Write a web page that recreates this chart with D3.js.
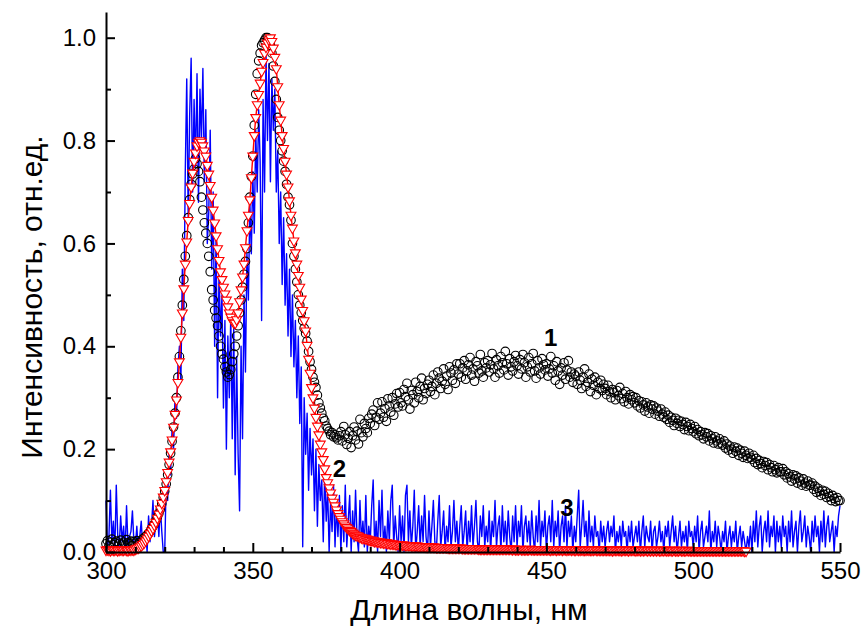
<!DOCTYPE html>
<html><head><meta charset="utf-8">
<script src="https://cdn.jsdelivr.net/npm/d3@7"></script>
<style>
html,body{margin:0;padding:0;background:#fff;}
svg{display:block;font-family:"Liberation Sans",Arial,sans-serif;}
</style></head>
<body><svg id="chart" width="866" height="641"></svg>
<script>
// wavelength grid (nm) for all series
const wlStart = 300, wlStep = 0.5;

// Series 1 (black open circles) 300..550 nm
const series1 = [
0.016,0.022,0.012,0.019,0.025,0.014,0.018,0.021,0.011,0.017,0.023,0.015,0.019,0.013,0.024,0.018,0.016,0.021,0.012,0.020,
0.017,0.022,0.014,0.019,0.020,0.025,0.028,0.030,0.033,0.036,0.040,0.045,0.050,0.055,0.061,0.068,0.075,0.083,0.094,0.106,
0.118,0.132,0.150,0.170,0.192,0.215,0.243,0.270,0.300,0.340,0.380,0.430,0.480,0.530,0.575,0.615,0.650,0.685,0.715,0.735,
0.745,0.765,0.755,0.740,0.720,0.690,0.665,0.640,0.620,0.600,0.575,0.545,0.510,0.490,0.470,0.455,0.440,0.420,0.400,0.385,
0.375,0.360,0.350,0.340,0.345,0.355,0.370,0.385,0.400,0.420,0.440,0.465,0.490,0.515,0.540,0.565,0.590,0.640,0.690,0.730,
0.770,0.830,0.890,0.930,0.955,0.970,0.985,0.990,0.995,1.000,1.000,0.995,0.985,0.970,0.945,0.915,0.880,0.845,0.820,0.800,
0.780,0.760,0.740,0.715,0.690,0.675,0.645,0.600,0.575,0.550,0.525,0.500,0.480,0.465,0.450,0.435,0.425,0.410,0.390,0.370,
0.355,0.340,0.330,0.320,0.305,0.290,0.280,0.270,0.260,0.255,0.245,0.240,0.235,0.228,0.232,0.224,0.228,0.222,0.218,0.226,
0.234,0.216,0.244,0.228,0.209,0.221,0.234,0.203,0.226,0.243,0.218,0.235,0.210,0.258,0.232,0.224,0.250,0.240,0.232,0.260,
0.250,0.268,0.276,0.246,0.262,0.290,0.258,0.270,0.292,0.262,0.279,0.254,0.298,0.284,0.272,0.300,0.266,0.288,0.308,0.282,
0.310,0.290,0.284,0.316,0.302,0.328,0.296,0.278,0.314,0.306,0.290,0.330,0.312,0.300,0.322,0.338,0.296,0.318,0.308,0.326,
0.334,0.312,0.322,0.344,0.306,0.328,0.350,0.338,0.318,0.332,0.356,0.326,0.342,0.316,0.360,0.348,0.334,0.354,0.328,0.366,
0.346,0.366,0.340,0.358,0.372,0.336,0.352,0.364,0.378,0.344,0.356,0.332,0.370,0.362,0.348,0.384,0.352,0.340,0.368,0.358,
0.372,0.350,0.364,0.386,0.356,0.340,0.374,0.362,0.348,0.380,0.368,0.354,0.390,0.366,0.344,0.376,0.360,0.352,0.370,0.382,
0.362,0.346,0.374,0.356,0.384,0.368,0.340,0.360,0.378,0.350,0.366,0.386,0.352,0.338,0.372,0.358,0.346,0.376,0.364,0.354,
0.366,0.342,0.356,0.380,0.348,0.362,0.334,0.370,0.352,0.326,0.358,0.344,0.368,0.336,0.354,0.372,0.340,0.350,0.330,0.346,
0.342,0.326,0.350,0.334,0.318,0.340,0.356,0.322,0.330,0.346,0.312,0.336,0.324,0.340,0.306,0.330,0.318,0.334,0.314,0.326,
0.318,0.306,0.324,0.312,0.300,0.316,0.310,0.296,0.314,0.304,0.320,0.298,0.308,0.292,0.312,0.300,0.288,0.306,0.296,0.302,
0.290,0.300,0.284,0.294,0.280,0.292,0.286,0.274,0.290,0.282,0.270,0.286,0.278,0.284,0.268,0.280,0.274,0.264,0.278,0.268,
0.262,0.272,0.258,0.266,0.252,0.262,0.256,0.246,0.260,0.250,0.256,0.244,0.254,0.248,0.238,0.252,0.244,0.236,0.248,0.240,
0.234,0.244,0.230,0.238,0.226,0.234,0.228,0.220,0.232,0.224,0.230,0.216,0.226,0.220,0.212,0.224,0.216,0.210,0.220,0.212,
0.208,0.216,0.202,0.210,0.198,0.206,0.200,0.192,0.204,0.196,0.202,0.188,0.198,0.192,0.184,0.196,0.188,0.182,0.192,0.184,
0.180,0.188,0.174,0.182,0.170,0.178,0.172,0.164,0.176,0.168,0.174,0.160,0.170,0.164,0.156,0.168,0.160,0.154,0.164,0.156,
0.156,0.162,0.150,0.156,0.144,0.152,0.146,0.138,0.150,0.142,0.148,0.134,0.144,0.138,0.130,0.142,0.134,0.128,0.138,0.130,
0.130,0.134,0.122,0.128,0.116,0.124,0.118,0.110,0.120,0.112,0.118,0.106,0.114,0.108,0.100,0.110,0.104,0.098,0.106,0.100,
0.100];

// Series 2 (red triangles + line) 300..518 nm
const series2 = [
0.004,0.005,0.004,0.003,0.005,0.004,0.004,0.005,0.003,0.004,0.005,0.004,0.004,0.005,0.004,0.003,0.005,0.004,0.005,0.004,
0.006,0.007,0.008,0.010,0.012,0.015,0.018,0.022,0.026,0.031,0.036,0.041,0.046,0.052,0.058,0.066,0.074,0.084,0.095,0.107,
0.120,0.137,0.155,0.175,0.195,0.218,0.243,0.268,0.296,0.330,0.370,0.418,0.465,0.512,0.560,0.603,0.645,0.678,0.710,0.737,
0.760,0.776,0.790,0.797,0.800,0.797,0.790,0.780,0.770,0.752,0.735,0.713,0.690,0.665,0.640,0.615,0.590,0.567,0.545,0.530,
0.515,0.502,0.490,0.477,0.465,0.457,0.450,0.446,0.445,0.452,0.465,0.487,0.510,0.535,0.560,0.592,0.625,0.655,0.685,0.728,
0.770,0.810,0.845,0.870,0.890,0.912,0.935,0.952,0.970,0.982,0.990,0.996,1.000,0.993,0.980,0.962,0.940,0.905,0.870,0.840,
0.810,0.785,0.760,0.735,0.710,0.683,0.655,0.630,0.605,0.582,0.560,0.538,0.515,0.492,0.470,0.450,0.430,0.402,0.375,0.348,
0.320,0.300,0.280,0.262,0.245,0.228,0.210,0.195,0.180,0.162,0.145,0.135,0.125,0.115,0.105,0.097,0.090,0.082,0.075,0.069,
0.064,0.059,0.055,0.051,0.048,0.045,0.042,0.040,0.037,0.035,0.033,0.032,0.031,0.029,0.028,0.027,0.027,0.026,0.025,0.024,
0.023,0.023,0.022,0.021,0.021,0.020,0.020,0.019,0.019,0.018,0.018,0.018,0.017,0.017,0.016,0.016,0.016,0.015,0.015,0.015,
0.014,0.014,0.014,0.014,0.013,0.013,0.013,0.013,0.012,0.012,0.012,0.012,0.012,0.011,0.011,0.011,0.011,0.011,0.010,0.010,
0.010,0.010,0.010,0.010,0.010,0.009,0.009,0.009,0.009,0.009,0.009,0.009,0.009,0.008,0.008,0.008,0.008,0.008,0.008,0.008,
0.008,0.008,0.008,0.007,0.007,0.007,0.007,0.007,0.007,0.007,0.007,0.007,0.007,0.007,0.006,0.006,0.006,0.006,0.006,0.006,
0.006,0.006,0.006,0.006,0.006,0.006,0.006,0.006,0.006,0.006,0.006,0.006,0.006,0.006,0.006,0.006,0.006,0.005,0.006,0.005,
0.005,0.005,0.006,0.005,0.005,0.005,0.005,0.005,0.005,0.006,0.005,0.005,0.005,0.005,0.005,0.005,0.005,0.005,0.005,0.005,
0.005,0.005,0.005,0.004,0.005,0.005,0.005,0.004,0.005,0.005,0.005,0.004,0.005,0.005,0.004,0.005,0.005,0.004,0.005,0.004,
0.004,0.005,0.004,0.004,0.005,0.004,0.004,0.004,0.005,0.004,0.004,0.004,0.004,0.005,0.004,0.004,0.004,0.004,0.004,0.004,
0.004,0.004,0.004,0.004,0.004,0.003,0.004,0.004,0.004,0.004,0.004,0.003,0.004,0.004,0.004,0.004,0.003,0.004,0.004,0.004,
0.004,0.003,0.004,0.004,0.003,0.004,0.003,0.004,0.004,0.003,0.004,0.003,0.004,0.003,0.004,0.003,0.004,0.003,0.003,0.004,
0.003,0.004,0.003,0.003,0.004,0.003,0.003,0.004,0.003,0.003,0.003,0.004,0.003,0.003,0.003,0.003,0.004,0.003,0.003,0.003,
0.003,0.003,0.003,0.003,0.003,0.003,0.003,0.003,0.003,0.003,0.003,0.003,0.003,0.003,0.003,0.003,0.003,0.003,0.003,0.003,
0.003,0.003,0.003,0.003,0.003,0.003,0.003,0.003,0.003,0.003,0.003,0.003,0.003,0.003,0.003,0.002,0.002];

// Series 3 (blue line) 300..550 nm
const series3 = [
0.10,0.01,0.03,0.12,0.02,0.06,0.00,0.13,0.03,0.01,0.07,0.02,0.05,0.00,0.09,0.01,0.03,0.04,0.08,0.02,
0.01,0.05,0.00,0.03,0.06,0.01,0.02,0.04,0.00,0.07,0.02,0.05,0.10,0.03,0.06,0.08,0.03,0.09,0.04,0.00,
0.00,0.14,0.10,0.19,0.15,0.24,0.20,0.30,0.26,0.36,0.40,0.33,0.55,0.45,0.74,0.92,0.65,0.85,0.96,0.70,
0.88,0.75,0.93,0.68,0.90,0.80,0.94,0.72,0.86,0.60,0.66,0.82,0.55,0.70,0.40,0.62,0.30,0.55,0.42,0.50,
0.28,0.45,0.20,0.42,0.30,0.46,0.22,0.44,0.15,0.38,0.19,0.08,0.40,0.22,0.50,0.35,0.58,0.49,0.68,0.58,
0.74,0.62,0.82,0.70,0.86,0.76,0.45,0.88,0.70,0.97,0.80,0.95,0.72,0.92,0.82,0.90,0.70,0.78,0.60,0.70,
0.52,0.65,0.48,0.58,0.42,0.55,0.38,0.50,0.36,0.45,0.30,0.42,0.25,0.36,0.01,0.30,0.19,0.27,0.12,0.24,
0.15,0.22,0.08,0.20,0.05,0.17,0.10,0.14,0.02,0.16,0.06,0.12,0.00,0.10,0.04,0.13,0.01,0.09,0.03,0.11,
0.00,0.09,0.02,0.13,0.01,0.06,0.11,0.00,0.08,0.02,0.12,0.03,0.00,0.10,0.02,0.06,0.01,0.11,0.00,0.05,
0.02,0.09,0.14,0.01,0.06,0.00,0.10,0.03,0.12,0.01,0.05,0.00,0.08,0.02,0.10,0.13,0.01,0.07,0.03,0.00,
0.09,0.02,0.07,0.00,0.11,0.13,0.02,0.08,0.01,0.05,0.12,0.00,0.04,0.09,0.01,0.07,0.02,0.11,0.03,0.00,
0.08,0.01,0.05,0.10,0.02,0.00,0.06,0.11,0.01,0.04,0.08,0.00,0.05,0.02,0.09,0.01,0.04,0.10,0.02,0.06,
0.00,0.05,0.09,0.01,0.04,0.08,0.00,0.06,0.02,0.09,0.01,0.05,0.10,0.02,0.00,0.07,0.03,0.09,0.01,0.05,
0.02,0.08,0.00,0.06,0.03,0.10,0.01,0.05,0.07,0.00,0.09,0.02,0.06,0.01,0.08,0.03,0.00,0.07,0.02,0.09,
0.01,0.06,0.03,0.09,0.00,0.05,0.07,0.02,0.06,0.01,0.08,0.03,0.00,0.07,0.02,0.10,0.01,0.06,0.03,0.08,
0.00,0.05,0.07,0.02,0.10,0.01,0.06,0.03,0.08,0.00,0.05,0.07,0.02,0.09,0.01,0.06,0.03,0.07,0.00,0.05,
0.02,0.07,0.12,0.01,0.05,0.10,0.03,0.06,0.00,0.08,0.02,0.05,0.01,0.07,0.03,0.04,0.00,0.06,0.02,0.05,
0.01,0.04,0.06,0.02,0.05,0.03,0.07,0.00,0.04,0.02,0.05,0.01,0.06,0.03,0.04,0.00,0.05,0.02,0.06,0.01,
0.03,0.05,0.02,0.06,0.00,0.04,0.07,0.01,0.05,0.03,0.02,0.06,0.00,0.04,0.05,0.01,0.03,0.06,0.02,0.04,
0.00,0.05,0.03,0.06,0.01,0.04,0.07,0.02,0.05,0.00,0.03,0.06,0.01,0.04,0.02,0.05,0.00,0.06,0.03,0.04,
0.01,0.05,0.02,0.07,0.00,0.04,0.06,0.01,0.03,0.05,0.02,0.08,0.00,0.04,0.02,0.06,0.01,0.05,0.03,0.00,
0.04,0.02,0.06,0.00,0.03,0.05,0.01,0.04,0.02,0.06,0.00,0.03,0.05,0.01,0.04,0.02,0.00,0.03,0.01,0.05,
0.00,0.06,0.02,0.08,0.01,0.05,0.07,0.00,0.04,0.06,0.02,0.08,0.01,0.05,0.03,0.07,0.00,0.06,0.02,0.05,
0.01,0.07,0.03,0.05,0.00,0.06,0.02,0.08,0.01,0.04,0.06,0.00,0.05,0.08,0.02,0.04,0.07,0.01,0.05,0.03,
0.00,0.06,0.02,0.07,0.03,0.05,0.00,0.06,0.02,0.08,0.01,0.05,0.07,0.02,0.04,0.06,0.00,0.05,0.03,0.07,
0.09];

const xMajorTicks = [300, 350, 400, 450, 500, 550];
const xMinorTicks = [310,320,330,340,360,370,380,390,410,420,430,440,460,470,480,490,510,520,530,540];
const yMajorTicks = [0.0, 0.2, 0.4, 0.6, 0.8, 1.0];
const yMinorTicks = [0.1, 0.3, 0.5, 0.7, 0.9];
const xTitle = "Длина волны, нм";
const yTitle = "Интенсивность, отн.ед.";
const curveLabels = [{t:"1", wl:451.5, v:0.40}, {t:"2", wl:379.5, v:0.146}, {t:"3", wl:457, v:0.07}];

const svg = d3.select("#chart");
const x = d3.scaleLinear().domain([300, 550]).range([106, 840]);
const y = d3.scaleLinear().domain([0, 1.05]).range([552, 12]);

const toPts = arr => arr.map((v, i) => [wlStart + i * wlStep, v]);
const d1 = toPts(series1), d2 = toPts(series2), d3p = toPts(series3);
const line = d3.line().x(d => x(d[0])).y(d => y(d[1]));

// blue
svg.append("path").attr("d", line(d3p)).attr("fill", "none")
  .attr("stroke", "#0000ff").attr("stroke-width", 1.4).attr("stroke-linejoin", "round");

// black circles
svg.append("g").selectAll("circle").data(d1).join("circle")
  .attr("cx", d => x(d[0])).attr("cy", d => y(d[1])).attr("r", 4.3)
  .attr("fill", "none").attr("stroke", "#000").attr("stroke-width", 1.1);

// red line + triangles
svg.append("path").attr("d", line(d2)).attr("fill", "none")
  .attr("stroke", "#ff0000").attr("stroke-width", 1.4);
const tri = d3.symbol().type(d3.symbolTriangle).size(42);
svg.append("g").selectAll("path").data(d2).join("path")
  .attr("d", tri)
  .attr("transform", d => `translate(${x(d[0])},${y(d[1])}) rotate(180)`)
  .attr("fill", "#fff").attr("stroke", "#ff0000").attr("stroke-width", 1.1);

// axes
const gx = svg.append("g").attr("transform", "translate(0,552)");
gx.call(d3.axisBottom(x).tickValues(xMajorTicks).tickSize(-9).tickSizeOuter(0).tickPadding(10).tickFormat(d3.format("d")));
gx.append("g").call(d3.axisBottom(x).tickValues(xMinorTicks).tickSize(-5).tickSizeOuter(0).tickFormat(""))
  .select(".domain").remove();
const gy = svg.append("g").attr("transform", "translate(106,0)");
gy.call(d3.axisLeft(y).tickValues(yMajorTicks).tickSize(-9).tickSizeOuter(0).tickPadding(10).tickFormat(d3.format(".1f")));
gy.append("g").call(d3.axisLeft(y).tickValues(yMinorTicks).tickSize(-5).tickSizeOuter(0).tickFormat(""))
  .select(".domain").remove();
svg.selectAll(".domain").attr("stroke", "#000").attr("stroke-width", 2);
svg.selectAll(".tick line").attr("stroke", "#000").attr("stroke-width", 2);
svg.selectAll(".tick text").attr("fill", "#000").style("font-size", "24px")
  .style("font-family", "'Liberation Sans', Arial, sans-serif");
gx.selectAll(".tick text").attr("dy", "0.71em");

// titles
svg.append("text").attr("x", 469).attr("y", 620).attr("text-anchor", "middle")
  .style("font-size", "30px").text(xTitle);
svg.append("text").attr("transform", "translate(42,297) rotate(-90)").attr("text-anchor", "middle")
  .style("font-size", "30px").text(yTitle);

// curve labels
svg.append("g").selectAll("text").data(curveLabels).join("text")
  .attr("x", d => x(d.wl)).attr("y", d => y(d.v)).attr("text-anchor", "middle")
  .style("font-size", "24px").style("font-weight", "bold").text(d => d.t);
</script></body></html>
